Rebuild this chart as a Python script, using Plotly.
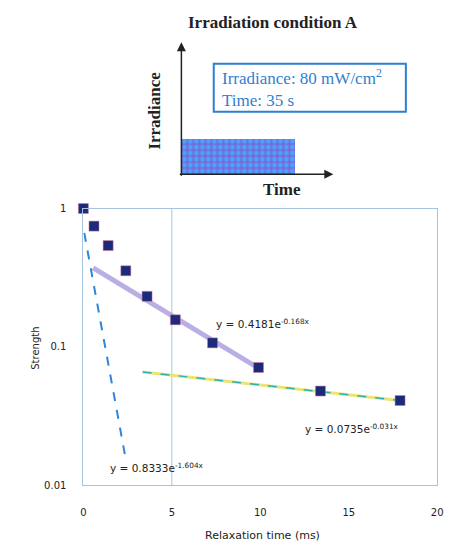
import math
import plotly.graph_objects as go

# ---- data ----
relax_time = [0.0, 0.6, 1.4, 2.4, 3.6, 5.2, 7.3, 9.9, 13.4, 17.9]
strength = [1.0, 0.746, 0.54, 0.355, 0.232, 0.157, 0.107, 0.071, 0.048, 0.041]

fit_fast_x = [0.05, 2.35]
fit_fast_y = [0.667, 0.0166]
fit_mid_x = [0.55, 10.0]
fit_mid_y = [0.372, 0.069]
fit_slow_x = [3.35, 17.9]
fit_slow_y = [0.066, 0.041]

eq_fast = "y = 0.8333e<sup>-1.604x</sup>"
eq_mid = "y = 0.4181e<sup>-0.168x</sup>"
eq_slow = "y = 0.0735e<sup>-0.031x</sup>"

x_ticks = [0, 5, 10, 15, 20]
y_ticks = [0.01, 0.1, 1]
y_ticktext = ["0.01", "0.1", "1"]

irradiance = 80   # mW/cm2
duration = 35     # s

W, H = 454, 552


def px(x):
    return x / W


def py(y):
    return 1 - y / H


fig = go.Figure()

# ---- main chart ----
fig.add_trace(go.Scatter(x=fit_mid_x, y=fit_mid_y, mode="lines",
                         line=dict(color="rgba(175,160,225,0.85)", width=5),
                         hoverinfo="skip", showlegend=False))
fig.add_trace(go.Scatter(x=fit_slow_x, y=fit_slow_y, mode="lines",
                         line=dict(color="#e9e37a", width=3),
                         hoverinfo="skip", showlegend=False))
fig.add_trace(go.Scatter(x=fit_slow_x, y=fit_slow_y, mode="lines",
                         line=dict(color="#2fb0a8", width=1.5, dash="dash"),
                         hoverinfo="skip", showlegend=False))
fig.add_trace(go.Scatter(x=fit_fast_x, y=fit_fast_y, mode="lines",
                         line=dict(color="#2f86d8", width=2, dash="dash"),
                         hoverinfo="skip", showlegend=False))
fig.add_trace(go.Scatter(x=relax_time, y=strength, mode="markers",
                         marker=dict(symbol="square", size=10, color="#1c2a7c",
                                     line=dict(color="rgba(220,120,150,0.5)", width=1)),
                         showlegend=False, cliponaxis=False))

# ---- schematic (irradiation condition) ----
fig.add_trace(go.Bar(x=[duration / 2], y=[irradiance], width=[duration],
                     xaxis="x2", yaxis="y2", showlegend=False,
                     marker=dict(color="#7a6ad6", line=dict(width=0),
                                 pattern=dict(shape=".", fgcolor="#4aa2ff",
                                              bgcolor="#7a6ad6", size=6,
                                              solidity=0.5, fgopacity=1))))

axis_line = "rgba(170,195,220,1)"
sans = "DejaVu Sans, Verdana, sans-serif"
fig.update_layout(
    width=W, height=H,
    margin=dict(l=0, r=0, t=0, b=0),
    paper_bgcolor="white", plot_bgcolor="white",
    font=dict(family=sans, size=10, color="#333"),
    xaxis=dict(domain=[px(82), px(443)], range=[0, 20], tickvals=x_ticks,
               showgrid=False, zeroline=False, showline=True, mirror=True,
               linecolor=axis_line, linewidth=1, ticks="",
               ticklabelstandoff=18, tickfont=dict(size=10, color="#222")),
    yaxis=dict(domain=[py(490), py(207)], type="log", range=[-2, 0],
               tickvals=y_ticks, ticktext=y_ticktext,
               showgrid=False, zeroline=False, showline=True, mirror=True,
               linecolor=axis_line, linewidth=1, ticks="",
               ticklabelstandoff=14, tickfont=dict(size=10, color="#222")),
    xaxis2=dict(domain=[px(182), px(337)], range=[0, duration * 155 / 116],
                visible=False, fixedrange=True),
    yaxis2=dict(domain=[py(172), py(37)], range=[0, irradiance * 135 / 36],
                visible=False, fixedrange=True),
    bargap=0,
)

# gridline at x=5
fig.add_shape(type="line", xref="x", yref="paper", x0=5, x1=5,
              y0=py(490), y1=py(207), line=dict(color=axis_line, width=1),
              layer="below")


def eq(x, y, text):
    return dict(x=x, y=math.log10(y), xref="x", yref="y", text=text,
                showarrow=False, xanchor="left", yanchor="middle",
                font=dict(family=sans, size=10.5, color="#222"))


ann = [
    eq(1.37, 0.0134, eq_fast),
    eq(7.4, 0.148, eq_mid),
    eq(12.4, 0.0257, eq_slow),
    dict(x=px(33), y=py(350), xref="paper", yref="paper", text="Strength",
         textangle=-90, showarrow=False, xanchor="center", yanchor="middle",
         font=dict(family=sans, size=10, color="#222")),
    dict(x=px(265), y=py(541), xref="paper", yref="paper",
         text="Relaxation time (ms)", showarrow=False,
         xanchor="center", yanchor="middle",
         font=dict(family=sans, size=11, color="#222")),
]

serif = "Liberation Serif, Times New Roman, serif"
ann += [
    dict(x=px(275), y=py(17), xref="paper", yref="paper",
         text="<b>Irradiation condition A</b>", showarrow=False,
         xanchor="center", yanchor="middle",
         font=dict(family=serif, size=17, color="#222")),
    dict(x=px(155), y=py(107), xref="paper", yref="paper",
         text="<b>Irradiance</b>", textangle=-90, showarrow=False,
         xanchor="center", yanchor="middle",
         font=dict(family=serif, size=17, color="#222")),
    dict(x=px(285), y=py(188), xref="paper", yref="paper",
         text="<b>Time</b>", showarrow=False, xanchor="center", yanchor="middle",
         font=dict(family=serif, size=17, color="#222")),
    dict(x=px(182), y=py(37), xref="paper", yref="paper", ax=0, ay=135,
         text="", showarrow=True, arrowhead=2, arrowsize=1.2,
         arrowwidth=1.5, arrowcolor="#222"),
    dict(x=px(337), y=py(172), xref="paper", yref="paper", ax=-155, ay=0,
         text="", showarrow=True, arrowhead=2, arrowsize=1.2,
         arrowwidth=1.5, arrowcolor="#222"),
    dict(x=px(221), y=py(84), xref="paper", yref="paper",
         text=f"Irradiance: {irradiance} mW/cm<sup>2</sup><br>Time: {duration} s",
         align="left", xanchor="left", yanchor="middle", showarrow=False,
         font=dict(family=serif, size=17, color="#2f7fd0")),
]
fig.update_layout(annotations=ann)

fig.add_shape(type="rect", xref="paper", yref="paper", x0=px(215), x1=px(411),
              y0=py(108), y1=py(59), line=dict(color="#2f7fd0", width=2))

fig.write_html("out.html")
